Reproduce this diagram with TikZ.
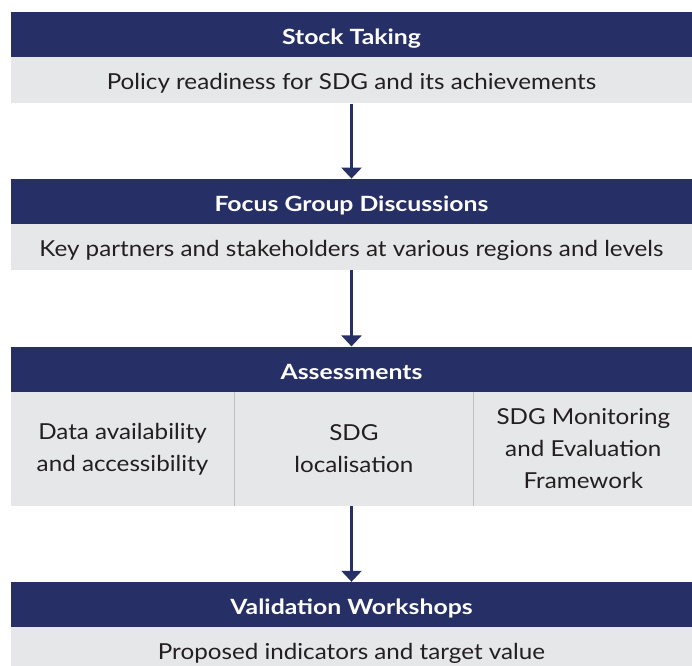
\documentclass[tikz,border=0pt]{standalone}
\usepackage{fontspec}
\setmainfont{Lato}[FakeStretch=1.1, BoldFeatures={FakeStretch=1.18}]
\usetikzlibrary{positioning, arrows.meta}
\definecolor{navy}{HTML}{262F66}
\definecolor{panel}{HTML}{E6E7E8}
\definecolor{rulegray}{HTML}{BDBEC0}
\definecolor{ink}{HTML}{231F20}

\begin{document}
\begin{tikzpicture}[x=1pt, y=1pt, node distance=76pt]
% How the boxes look
\tikzstyle{head_box} = [rectangle, minimum width=681pt, minimum height=45pt, inner sep=0pt, text centered, text height=20pt, text depth=0pt, fill=navy, text=white, font=\fontsize{21}{25}\selectfont\bfseries]
\tikzstyle{body_box} = [rectangle, minimum width=681pt, minimum height=46pt, inner sep=0pt, text centered, text height=18pt, text depth=0pt, fill=panel, text=ink, font=\fontsize{22}{32}\selectfont]
\tikzstyle{cell_box} = [rectangle, minimum height=114pt, inner sep=0pt, align=center, fill=panel, text=ink, font=\fontsize{22}{32}\selectfont]
\tikzstyle{divider} = [rulegray, line width=1pt]
\tikzstyle{arrow} = [line width=2.5pt, navy, -{Triangle[width=20pt, length=11pt]}]
\useasboundingbox (0,0) rectangle (692,665);

% Stages
\node (stock) [head_box] at (351.5,630.5) {Stock Taking};
\node (stock_body) [body_box, below=0pt of stock] {Policy readiness for SDG and its achievements};

\node (focus) [head_box, below=75pt of stock_body] {Focus Group Discussions};
\node (focus_body) [body_box, below=0pt of focus] {Key partners and stakeholders at various regions and levels};

\node (assess) [head_box, below=of focus_body] {Assessments};
\node (data) [cell_box, minimum width=223pt, below right=0pt and 0pt of assess.south west] {Data availability\\and accessibility};
\node (local) [cell_box, minimum width=239pt, right=0pt of data] {SDG\\localisation};
\node (frame) [cell_box, minimum width=219pt, right=0pt of local] {SDG Monitoring\\and Evaluation\\Framework};

\node (valid) [head_box, below=of assess.south, yshift=-114pt] {Validation Workshops};
\node (valid_body) [body_box, below=0pt of valid] {Proposed indicators and target value};

% Lines between cells
\draw [divider] (data.north east) -- (data.south east);
\draw [divider] (local.north east) -- (local.south east);

% Arrows
\draw [arrow] (stock_body) -- (focus);
\draw [arrow] (focus_body) -- (assess);
\draw [arrow] (valid |- local.south) -- (valid.north);
\end{tikzpicture}
\end{document}
